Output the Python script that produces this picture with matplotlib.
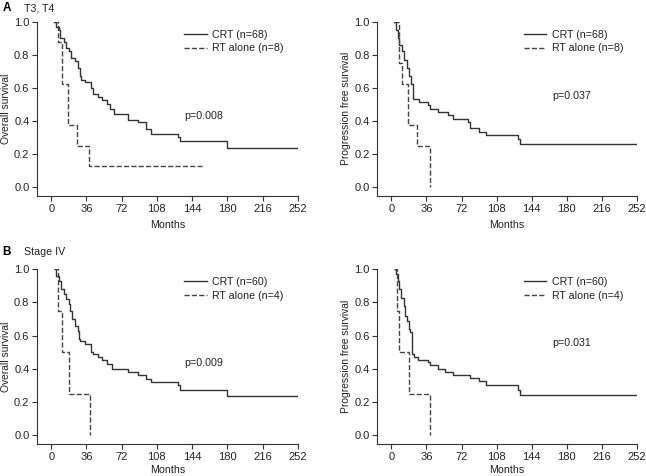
import matplotlib
matplotlib.use("Agg")
import matplotlib.pyplot as plt

plt.rcParams['font.family'] = ['Liberation Sans', 'DejaVu Sans']

# ---- data (months, survival after the step) ----
# A: T3, T4
os_a_crt_t = [2.5, 5, 7.5, 9.5, 13, 15, 18, 20.5, 24.5, 27, 29, 30.5, 35, 40.5, 43, 48, 52, 57,
              60, 64, 78.5, 89, 96.5, 102, 130, 132, 180, 252]
os_a_crt_s = [1.0, 0.97, 0.95, 0.90, 0.88, 0.84, 0.82, 0.78, 0.76, 0.72, 0.67, 0.65, 0.635, 0.60,
              0.56, 0.545, 0.525, 0.50, 0.47, 0.443, 0.407, 0.39, 0.35, 0.322, 0.30, 0.278, 0.238, 0.238]
os_a_rt_t = [3, 6.5, 11, 17.5, 26, 39, 154]
os_a_rt_s = [1.0, 0.875, 0.625, 0.375, 0.25, 0.125, 0.125]

pfs_a_crt_t = [3, 5, 6.5, 8, 11, 13, 16, 18.5, 20.5, 22, 28, 37.5, 39.3, 47.5, 58.5, 63.3, 78.5,
               81, 89.6, 97, 130, 132.4, 252]
pfs_a_crt_s = [1.0, 0.95, 0.90, 0.86, 0.82, 0.77, 0.72, 0.67, 0.62, 0.532, 0.517, 0.495, 0.474,
               0.454, 0.436, 0.413, 0.395, 0.359, 0.335, 0.313, 0.29, 0.258, 0.258]
pfs_a_rt_t = [3, 8, 11, 17, 26.3, 39.5]
pfs_a_rt_s = [1.0, 0.75, 0.625, 0.375, 0.25, 0.0]

# B: Stage IV
os_b_crt_t = [3.4, 5, 7.5, 10, 13.3, 15, 17.7, 19.7, 21, 24.5, 27, 28, 29.6, 34.7, 40.5, 43.2,
              48.3, 51.8, 56.8, 62, 78.5, 89, 96.7, 101.8, 129.5, 131.8, 179.5, 252]
os_b_crt_s = [1.0, 0.96, 0.93, 0.88, 0.85, 0.82, 0.79, 0.75, 0.70, 0.66, 0.63, 0.58, 0.566, 0.55,
              0.504, 0.49, 0.47, 0.455, 0.43, 0.40, 0.38, 0.363, 0.34, 0.32, 0.30, 0.27, 0.236, 0.236]
os_b_rt_t = [3, 6.5, 10.9, 18.4, 39.8]
os_b_rt_s = [1.0, 0.75, 0.5, 0.25, 0.0]

pfs_b_crt_t = [3.2, 4.9, 6.5, 8.2, 10.3, 12.6, 14.4, 16.1, 17.8, 19.5, 21.5, 22.9, 27.4, 37.5,
               39.3, 47.5, 55.4, 63.3, 81, 89.6, 97.1, 130, 132.4, 252]
pfs_b_crt_s = [1.0, 0.97, 0.93, 0.88, 0.83, 0.78, 0.72, 0.69, 0.64, 0.62, 0.49, 0.472, 0.453,
               0.44, 0.423, 0.399, 0.383, 0.365, 0.347, 0.325, 0.30, 0.275, 0.245, 0.245]
pfs_b_rt_t = [3, 6, 8.2, 18.1, 39.7]
pfs_b_rt_s = [1.0, 0.75, 0.5, 0.25, 0.0]

x_ticks = [0, 36, 72, 108, 144, 180, 216, 252]
y_ticks = [0.0, 0.2, 0.4, 0.6, 0.8, 1.0]

panels = [
    # (axes rect, crt, rt, ylabel, legend labels, p text, p pos, xlabel y)
    ([0.0573, 0.5882, 0.4036, 0.3662], (os_a_crt_t, os_a_crt_s), (os_a_rt_t, os_a_rt_s),
     'Overall survival', ('CRT (n=68)', 'RT alone (n=8)'), 'p=0.008', (136, 0.43), -0.14),
    ([0.5841, 0.5882, 0.4015, 0.3662], (pfs_a_crt_t, pfs_a_crt_s), (pfs_a_rt_t, pfs_a_rt_s),
     'Progression free survival', ('CRT (n=68)', 'RT alone (n=8)'), 'p=0.037', (165, 0.55), -0.14),
    ([0.0573, 0.0666, 0.4036, 0.3676], (os_b_crt_t, os_b_crt_s), (os_b_rt_t, os_b_rt_s),
     'Overall survival', ('CRT (n=60)', 'RT alone (n=4)'), 'p=0.009', (136, 0.435), -0.12),
    ([0.5841, 0.0666, 0.4015, 0.3676], (pfs_b_crt_t, pfs_b_crt_s), (pfs_b_rt_t, pfs_b_rt_s),
     'Progression free survival', ('CRT (n=60)', 'RT alone (n=4)'), 'p=0.031', (165, 0.553), -0.12),
]

fig = plt.figure(figsize=(6.46, 4.76), dpi=100)
lc = '#333333'
fs = 7.7

for rect, crt, rt, ylab, labs, ptxt, ppos, xly in panels:
    ax = fig.add_axes(rect)
    ax.step(crt[0], crt[1], where='post', color=lc, lw=1.0, label=labs[0])
    ax.step(rt[0], rt[1], where='post', color='#444444', lw=1.0, ls='--', label=labs[1])
    ax.set_xlim(-14.5, 252)
    ax.set_ylim(-0.055, 1.0)
    ax.set_xticks(x_ticks)
    ax.set_yticks(y_ticks)
    ax.set_yticklabels(['%.1f' % v for v in y_ticks])
    for s in ['top', 'right']:
        ax.spines[s].set_visible(False)
    for s in ['left', 'bottom']:
        ax.spines[s].set_linewidth(0.8)
        ax.spines[s].set_color('#333333')
    ax.tick_params(direction='out', length=3.5, width=0.8, color='#333333',
                   labelsize=8, pad=2, labelcolor='#222222')
    ax.set_xlabel('Months', fontsize=fs, color='#222222')
    ax.xaxis.set_label_coords(0.5, xly)
    ax.set_ylabel(ylab, fontsize=7.4, color='#222222')
    ax.yaxis.set_label_coords(-0.1, 0.5)
    ax.legend(loc='upper left', bbox_to_anchor=(0.565, 0.955), frameon=False, fontsize=fs,
              borderpad=0, borderaxespad=0, handlelength=2.1, handletextpad=0.5,
              labelspacing=0.35, labelcolor='#222222')
    ax.text(ppos[0], ppos[1], ptxt, fontsize=fs, color='#222222', va='center', ha='left')

fig.text(0.004, 0.983, 'A', fontsize=8.5, fontweight='bold', va='center', ha='left')
fig.text(0.037, 0.983, 'T3, T4', fontsize=fs, va='center', ha='left', color='#222222')
fig.text(0.004, 0.471, 'B', fontsize=8.5, fontweight='bold', va='center', ha='left')
fig.text(0.037, 0.471, 'Stage IV', fontsize=fs, va='center', ha='left', color='#222222')

fig.savefig('out.png', dpi=100)
